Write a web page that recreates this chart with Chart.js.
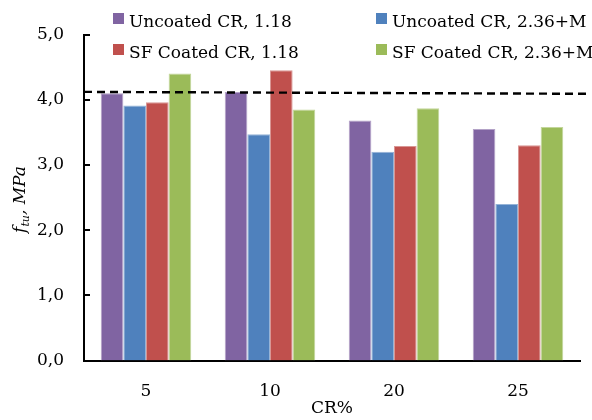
<!DOCTYPE html>
<html>
<head>
<meta charset="utf-8">
<script src="https://cdn.jsdelivr.net/npm/chart.js@4.4.1/dist/chart.umd.min.js"></script>
<style>
  html, body { margin: 0; padding: 0; background: #fff; }
  #wrap { position: relative; width: 592px; height: 420px; }
</style>
</head>
<body>
<div id="wrap"><canvas id="c" width="592" height="420"></canvas></div>
<script>
// CR content (%) on the x axis
const categories = ['5', '10', '20', '25'];

// Tensile strength f_tu (MPa) for each mix
const uncoated118 = [4.10, 4.12, 3.68, 3.55];
const uncoated236M = [3.91, 3.47, 3.20, 2.40];
const sfCoated118 = [3.96, 4.45, 3.29, 3.30];
const sfCoated236M = [4.40, 3.85, 3.87, 3.58];

// Reference level (dashed), value at the left and right ends
const refLine = [4.12, 4.09];

// y axis ticks
const yTicks = [0, 1, 2, 3, 4, 5];

const seriesLabels = ['Uncoated CR, 1.18', 'Uncoated CR, 2.36+M', 'SF Coated CR, 1.18', 'SF Coated CR, 2.36+M'];
const seriesColors = ['#8064A2', '#4F81BD', '#C0504D', '#9BBB59'];
const seriesEdges = ['#B3A2C7', '#95B3D7', '#D99694', '#C3D69B'];

const FONT = '"DejaVu Serif", "Liberation Serif", serif';

const seriesData = [uncoated118, uncoated236M, sfCoated118, sfCoated236M];

// dashed reference line across the plot
const refLinePlugin = {
  id: 'refLine',
  afterDatasetsDraw(chart) {
    const y = chart.scales.y, a = chart.chartArea, ctx = chart.ctx;
    ctx.save();
    ctx.strokeStyle = '#000';
    ctx.lineWidth = 2.4;
    ctx.setLineDash([8, 5]);
    ctx.beginPath();
    ctx.moveTo(a.left, y.getPixelForValue(refLine[0]));
    ctx.lineTo(chart.width - 1, y.getPixelForValue(refLine[1]));
    ctx.stroke();
    ctx.restore();
  }
};

// inward tick marks on the value axis
const innerTicksPlugin = {
  id: 'innerTicks',
  afterDraw(chart) {
    const y = chart.scales.y, a = chart.chartArea, ctx = chart.ctx;
    ctx.save();
    ctx.strokeStyle = '#000';
    ctx.lineWidth = 2;
    y.ticks.forEach(t => {
      const py = Math.round(y.getPixelForValue(t.value));
      ctx.beginPath();
      ctx.moveTo(a.left, py);
      ctx.lineTo(a.left + 6, py);
      ctx.stroke();
    });
    ctx.restore();
  }
};

// y axis title with subscript: f_tu, MPa
const yTitlePlugin = {
  id: 'yTitle',
  afterDraw(chart) {
    const ctx = chart.ctx, a = chart.chartArea;
    const parts = [
      { t: 'f', f: 'italic 17px ' + FONT, dy: 0 },
      { t: 'tu', f: 'italic 11px ' + FONT, dy: 4 },
      { t: ', MPa', f: 'italic 17px ' + FONT, dy: 0 }
    ];
    ctx.save();
    let total = 0;
    parts.forEach(p => { ctx.font = p.f; p.w = ctx.measureText(p.t).width; total += p.w; });
    ctx.translate(25, (a.top + a.bottom) / 2 + 2);
    ctx.rotate(-Math.PI / 2);
    ctx.fillStyle = '#000';
    ctx.textBaseline = 'alphabetic';
    let x = -total / 2;
    parts.forEach(p => {
      ctx.font = p.f;
      ctx.fillText(p.t, x, p.dy);
      x += p.w;
    });
    ctx.restore();
  }
};

// two-column legend above the plot
const legendPlugin = {
  id: 'twoColLegend',
  afterDraw(chart) {
    const ctx = chart.ctx;
    const cols = [113, 376];
    const rows = [13, 44];
    ctx.save();
    ctx.font = '17px ' + FONT;
    ctx.textBaseline = 'alphabetic';
    chart.data.datasets.forEach((ds, i) => {
      const col = cols[i % 2], row = rows[Math.floor(i / 2)];
      ctx.fillStyle = ds.backgroundColor;
      ctx.fillRect(col, row, 11, 11);
      ctx.fillStyle = '#000';
      ctx.fillText(ds.label, col + 16, row + 14);
    });
    ctx.restore();
  }
};

new Chart(document.getElementById('c'), {
  type: 'bar',
  data: {
    labels: categories,
    datasets: seriesData.map((d, i) => ({
      label: seriesLabels[i],
      data: d,
      backgroundColor: seriesColors[i],
      borderColor: seriesEdges[i],
      borderWidth: 1,
      categoryPercentage: 0.73,
      barPercentage: 1
    }))
  },
  options: {
    responsive: false,
    animation: false,
    events: [],
    layout: { padding: { left: 0, right: 12, top: 34.5, bottom: 0 } },
    plugins: {
      legend: { display: false },
      tooltip: { enabled: false },
      title: { display: false }
    },
    scales: {
      x: {
        grid: { display: false, drawTicks: false, tickLength: 0 },
        border: { display: true, color: '#000', width: 2 },
        ticks: { color: '#000', font: { family: FONT, size: 17 }, padding: 21, maxRotation: 0 },
        title: { display: true, text: 'CR%', color: '#000', font: { family: FONT, size: 17 }, padding: { top: 0, bottom: 1 } },
        afterFit(s) { s.height = 59.5; }
      },
      y: {
        min: 0,
        max: 5,
        afterBuildTicks(s) { s.ticks = yTicks.map(v => ({ value: v })); },
        grid: { display: false, drawTicks: false, tickLength: 0 },
        border: { display: true, color: '#000', width: 2 },
        ticks: {
          color: '#000',
          font: { family: FONT, size: 17 },
          padding: 20,
          callback: v => v.toFixed(1).replace('.', ',')
        },
        afterFit(s) { s.width = 84; }
      }
    }
  },
  plugins: [refLinePlugin, innerTicksPlugin, yTitlePlugin, legendPlugin]
});
</script>
</body>
</html>
